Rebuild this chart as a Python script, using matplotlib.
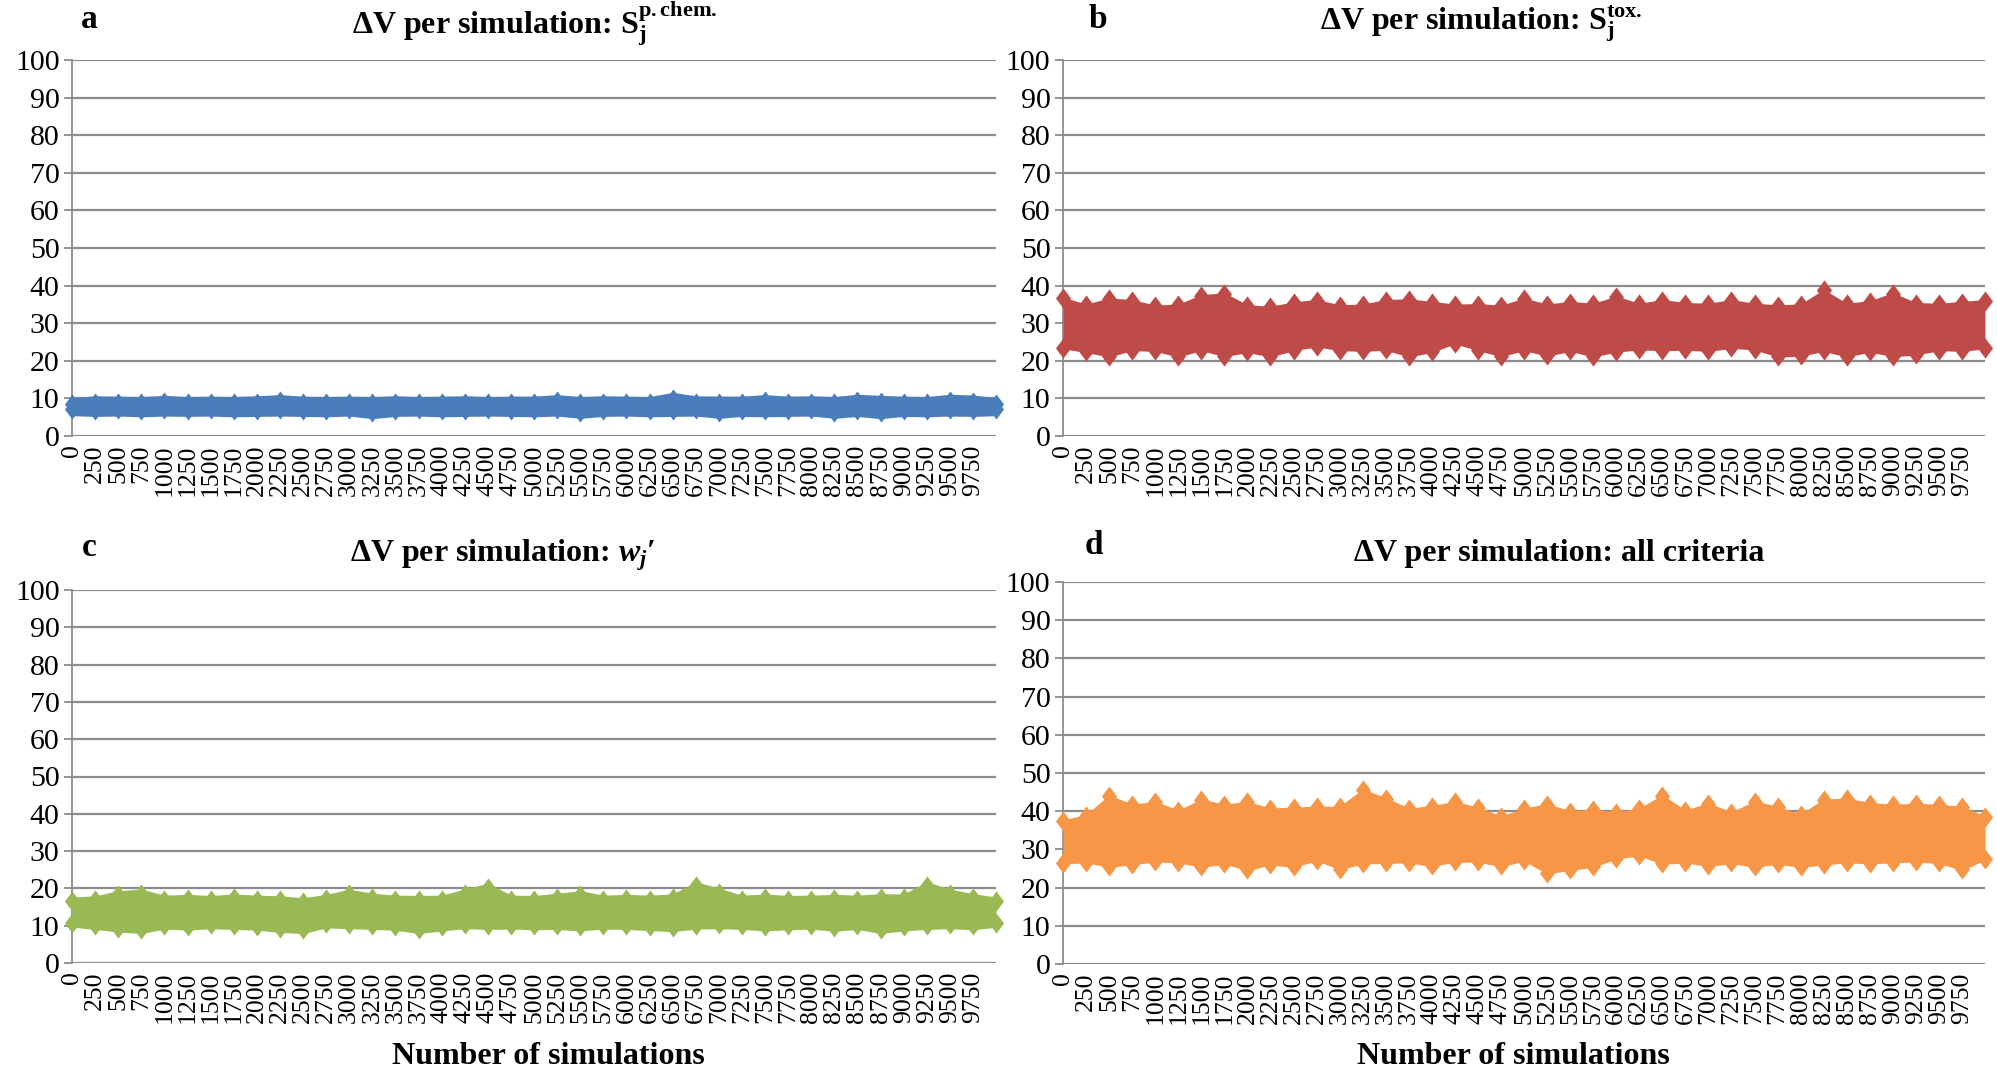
import numpy as np
import matplotlib.pyplot as plt

plt.rcParams['font.family'] = ['Liberation Serif', 'DejaVu Serif']
plt.rcParams['mathtext.fontset'] = 'custom'
plt.rcParams['mathtext.rm'] = 'Liberation Serif:bold'
plt.rcParams['mathtext.bf'] = 'Liberation Serif:bold'
plt.rcParams['mathtext.it'] = 'Liberation Serif:italic:bold'

# simulation index of each bin (one bin per 250 simulations, last one = 9999)
bins = list(range(0, 10000, 250)) + [9999]
tick_labels = [str(v) for v in range(0, 10000, 250)]

# per-bin highest / lowest dV (marker centres)
a_hi = [8.4, 8.9, 8.8, 8.7, 9.0, 8.7, 8.8, 8.7, 8.9, 9.2, 8.8, 8.7, 8.8, 8.7, 8.9, 8.7, 8.8, 8.9, 8.7, 8.8,
        8.8, 9.2, 8.7, 8.9, 8.8, 8.7, 9.8, 8.9, 8.8, 8.8, 9.2, 8.8, 8.9, 8.7, 9.3, 9.0, 8.8, 8.7, 9.3, 9.1, 8.4]
a_lo = [7.2, 7.0, 7.1, 6.9, 7.1, 7.0, 7.1, 6.9, 7.0, 7.1, 7.0, 6.9, 7.1, 6.4, 7.0, 7.1, 6.9, 7.0, 7.1, 7.0,
        6.9, 7.1, 6.5, 7.0, 7.1, 6.9, 7.0, 7.1, 6.5, 7.0, 6.9, 7.0, 7.1, 6.5, 7.0, 6.4, 7.0, 6.9, 7.1, 7.0, 7.2]

b_hi = [36.6, 34.8, 36.4, 36.0, 34.5, 34.8, 37.3, 37.8, 34.6, 34.2, 35.4, 36.0, 34.6, 34.8, 36.0, 36.2,
        35.5, 34.8, 34.9, 34.5, 36.4, 34.8, 35.5, 35.0, 36.9, 35.0, 36.0, 35.2, 35.0, 36.0, 35.0, 34.6,
        34.8, 38.7, 35.0, 35.7, 37.8, 35.2, 35.0, 35.5, 36.0]
b_lo = [23.5, 22.5, 21.3, 23.0, 22.8, 21.3, 23.0, 21.4, 22.5, 21.3, 23.0, 24.0, 23.0, 22.8, 23.1, 21.3,
        22.5, 24.8, 23.0, 21.4, 23.0, 21.5, 22.8, 21.3, 22.6, 23.2, 23.0, 23.1, 22.8, 23.6, 23.2, 21.3,
        21.5, 22.8, 21.3, 22.6, 21.4, 21.8, 23.0, 22.8, 23.5]

c_hi = [16.5, 16.8, 18.2, 18.6, 17.0, 17.2, 16.9, 17.3, 17.0, 16.8, 16.3, 17.2, 18.6, 17.5, 17.0, 16.9,
        17.0, 18.6, 20.2, 17.0, 16.9, 17.5, 18.2, 17.0, 17.2, 17.0, 17.3, 20.6, 18.9, 17.0, 17.3, 16.9,
        17.0, 17.2, 17.0, 17.4, 17.3, 20.6, 18.6, 17.4, 16.5]
c_lo = [10.8, 10.2, 9.5, 9.1, 10.3, 10.0, 10.4, 10.2, 10.0, 9.4, 9.1, 10.6, 10.4, 10.2, 10.0, 9.1,
        9.8, 10.4, 10.2, 10.3, 10.1, 10.2, 9.8, 10.3, 10.2, 9.9, 9.6, 10.3, 10.4, 10.2, 9.8, 10.1,
        10.3, 9.7, 10.2, 9.1, 9.8, 10.2, 10.4, 10.1, 10.8]

d_hi = [37.5, 38.8, 44.0, 41.5, 42.3, 40.0, 42.9, 41.5, 42.3, 40.5, 40.8, 41.0, 41.0, 45.5, 43.3, 40.5,
        41.2, 42.3, 40.8, 38.5, 40.5, 41.7, 39.8, 40.2, 39.5, 40.5, 44.0, 40.0, 41.9, 39.5, 42.4, 41.0,
        39.0, 42.9, 43.1, 42.0, 41.5, 41.8, 41.5, 41.0, 38.5]
d_lo = [26.5, 26.8, 25.6, 26.3, 27.0, 26.8, 25.6, 26.4, 24.8, 26.2, 25.6, 27.3, 25.0, 26.5, 26.6, 26.8,
        25.8, 27.0, 26.9, 25.8, 27.2, 23.9, 24.8, 25.6, 27.8, 28.6, 26.4, 26.8, 25.8, 26.6, 25.6, 26.4,
        25.6, 26.2, 26.8, 26.5, 26.8, 27.0, 26.6, 24.8, 27.5]

colors = ['#4A7EBB', '#BE4B48', '#98B954', '#F79646']
letters = ['a', 'b', 'c', 'd']
titles = [r'ΔV per simulation: $\mathbf{S_j^{p{.}chem{.}}}$',
          r'ΔV per simulation: $\mathbf{S_j^{tox{.}}}$',
          r'ΔV per simulation: $w_j$′',
          'ΔV per simulation: all criteria']

grid_col = '#8C8C8C'
# tall, narrow diamond like the spreadsheet marker
diamond = [(0, 1), (0.75, 0), (0, -1), (-0.75, 0), (0, 1)]

fig = plt.figure(figsize=(19.97, 10.73), dpi=100)
W, H = 1997, 1073

# axes boxes in pixels: left, top(100), right, bottom(0)
boxes = [(72, 60, 996, 436), (1063, 60, 1985, 436), (72, 590, 996, 963), (1063, 582, 1985, 964)]
data = [(a_hi, a_lo), (b_hi, b_lo), (c_hi, c_lo), (d_hi, d_lo)]
pads = [1.8, 0.3, 1.2, 0.3]

for k, (l, t, r, b) in enumerate(boxes):
    ax = fig.add_axes([l / W, 1 - b / H, (r - l) / W, (b - t) / H])
    hi, lo = data[k]
    col = colors[k]
    ax.fill_between(bins, np.array(lo) - pads[k], np.array(hi) + pads[k], color=col, lw=0, zorder=3)
    ax.plot(bins, hi, marker=diamond, ls='none', ms=14.5, color=col, mew=0, zorder=3, clip_on=False)
    ax.plot(bins, lo, marker=diamond, ls='none', ms=14.5, color=col, mew=0, zorder=3, clip_on=False)

    ax.set_xlim(-0.5, 9999.5)
    ax.set_ylim(0, 100)
    ax.set_yticks(range(0, 101, 10))
    ax.set_xticks(range(0, 10000, 250))
    ax.set_xticklabels(tick_labels, rotation=90, fontsize=18.5)
    ax.tick_params(axis='x', length=0, pad=6)
    ax.tick_params(axis='y', length=6, width=1.3, color=grid_col, labelsize=21.5, pad=3)
    ax.grid(axis='y', color=grid_col, lw=1.6, zorder=1)
    ax.set_axisbelow(True)
    for s in ['top', 'right', 'bottom']:
        ax.spines[s].set_visible(False)
    ax.spines['left'].set_color(grid_col)
    ax.spines['left'].set_linewidth(1.3)

# panel letters and titles (pixel positions)
letter_pos = [(89, 20), (1098, 20), (89, 548), (1094, 546)]
title_pos = [(535, 24), (1481, 24), (503, 555), (1559, 553)]
for k in range(4):
    fig.text(letter_pos[k][0] / W, 1 - letter_pos[k][1] / H, letters[k], fontsize=24,
             fontweight='bold', ha='center', va='center')
    fig.text(title_pos[k][0] / W, 1 - title_pos[k][1] / H, titles[k], fontsize=23,
             fontweight='bold', ha='center', va='center')

fig.text(548 / W, 1 - 1057 / H, 'Number of simulations', fontsize=23, fontweight='bold',
         ha='center', va='center')
fig.text(1513 / W, 1 - 1057 / H, 'Number of simulations', fontsize=23, fontweight='bold',
         ha='center', va='center')

fig.savefig('out.png', dpi=100)
